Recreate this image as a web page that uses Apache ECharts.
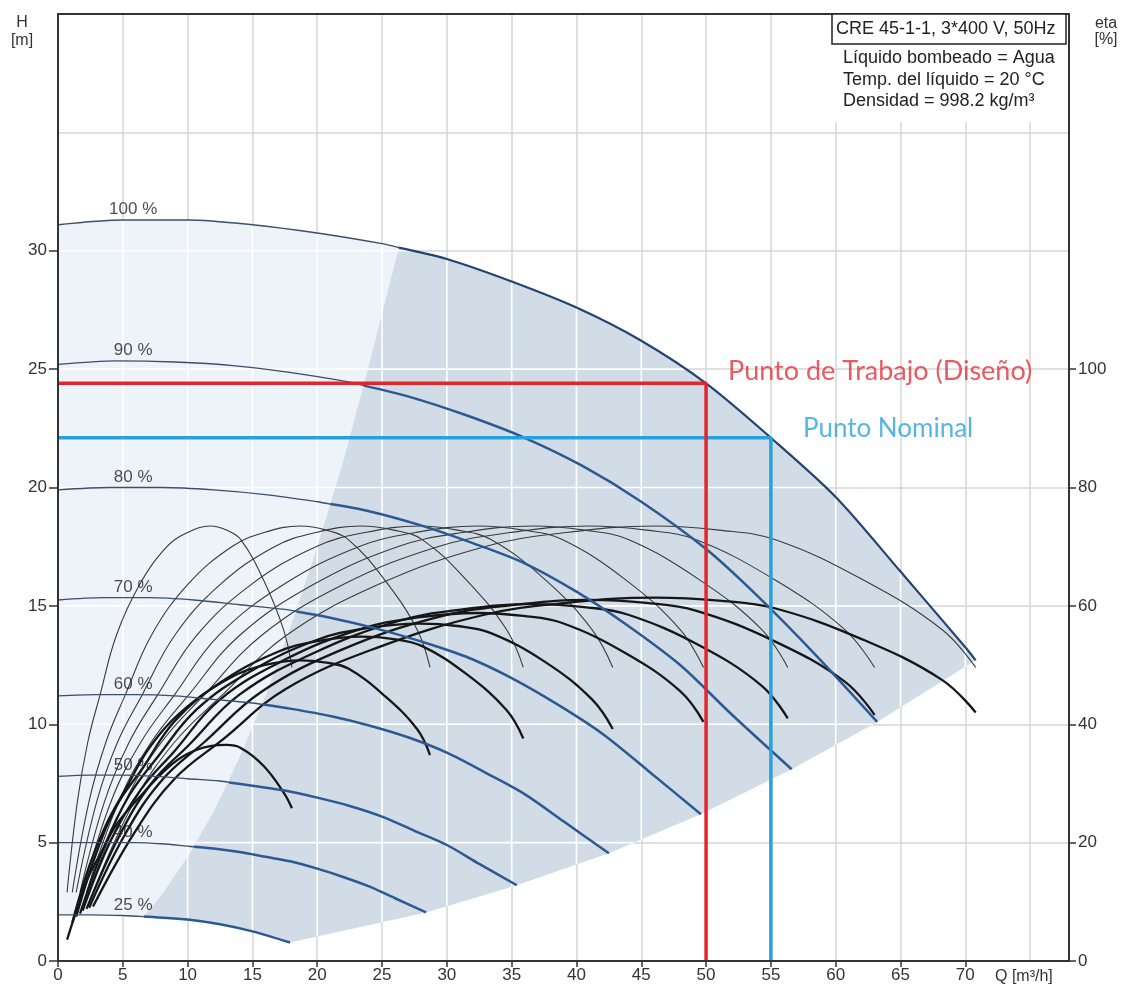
<!DOCTYPE html>
<html>
<head>
<meta charset="utf-8">
<title>CRE 45-1-1</title>
<script src="https://cdn.jsdelivr.net/npm/echarts@6.0.0/dist/echarts.min.js"></script>
<style>
  html, body { margin: 0; padding: 0; background: #fff; }
  #chart { width: 1123px; height: 986px; }
</style>
</head>
<body>
<div id="chart"></div>
<script>
// ---- axis ticks ----
var qTicks = [0, 5, 10, 15, 20, 25, 30, 35, 40, 45, 50, 55, 60, 65, 70];
var hTicks = [0, 5, 10, 15, 20, 25, 30];
var etaTicks = [0, 20, 40, 60, 80, 100];

// ---- Q-H curves for each speed, [Q m3/h, H m] ----
var speedNames = ['100 %', '90 %', '80 %', '70 %', '60 %', '50 %', '40 %', '25 %'];
var qh100 = [[0,31.1],[5,31.3],[10,31.3],[15,31.1],[20,30.75],[25,30.3],[30,29.65],[35,28.7],[40,27.6],[45,26.2],[50,24.4],[55,22.1],[60,19.6],[65,16.45],[70,13.25],[70.8,12.7]];
var qh90 = [[0,25.2],[4.5,25.35],[9,25.3],[13.5,25.15],[18,24.85],[22.5,24.45],[27,23.85],[31.5,23.05],[36,22.1],[40.5,20.9],[45,19.4],[50,17.4],[54,15.4],[58.5,12.9],[63.2,10.1]];
var qh80 = [[0,19.9],[4,20.0],[8,20.0],[12,19.9],[16,19.7],[20,19.4],[24,19.0],[28,18.4],[32,17.65],[36,16.8],[40,15.6],[44,14.15],[48,12.5],[52,10.4],[56.6,8.1]];
var qh70 = [[0,15.25],[3.5,15.35],[7,15.35],[10.5,15.25],[14,15.05],[17.5,14.85],[21,14.5],[24.5,14.05],[28,13.5],[31.5,12.85],[35,11.95],[38.5,10.85],[42,9.6],[45.5,8.05],[49.6,6.2]];
var qh60 = [[0,11.2],[3,11.25],[6,11.25],[9,11.2],[12,11.05],[15,10.9],[18,10.65],[21,10.35],[24,9.95],[27,9.45],[30,8.8],[33,7.95],[36,7.05],[39,5.9],[42.5,4.55]];
var qh50 = [[0,7.8],[2.5,7.85],[5,7.85],[7.5,7.8],[10,7.7],[12.5,7.6],[15,7.4],[17.5,7.2],[20,6.9],[22.5,6.55],[25,6.1],[27.5,5.5],[30,4.9],[32.5,4.1],[35.4,3.2]];
var qh40 = [[0,5.0],[2,5.0],[4,5.0],[6,5.0],[8,4.95],[10,4.85],[12,4.75],[14,4.6],[16,4.4],[18,4.2],[20,3.9],[22,3.55],[24,3.15],[26,2.65],[28.4,2.05]];
var qh25 = [[0,1.95],[2.5,1.95],[5,1.92],[7.5,1.85],[10,1.75],[12.5,1.55],[15,1.25],[17.9,0.78]];
// where each speed curve enters the darker zone
var speedSplitQ = [26.3, 23.6, 21.0, 18.4, 15.8, 13.2, 10.5, 6.6];
// edge between light and dark zone
var areaEdge = [[6.6,1.88],[8,2.8],[10,4.4],[12,6.3],[14,8.6],[16,11.2],[18,14.2],[20,17.5],[22,21.1],[24,25.2],[26.3,30.15]];

// ---- efficiency curves, Q per speed, eta in % ----
var etaQ100 = [2.7,5.9,9.0,12.7,17.6,24.7,32.9,39.2,46.1,51.0,55.3,62.1,68.2,70.8];
var etaQ90  = [2.4,5.2,8.0,11.3,15.7,22.0,29.3,34.9,41.0,45.4,49.2,55.3,60.7,63.0];
var etaQ80  = [2.2,4.7,7.2,10.1,14.0,19.7,26.2,31.2,36.7,40.6,44.0,49.5,54.3,56.3];
var etaQ70  = [1.9,4.1,6.4,9.0,12.4,17.4,23.2,27.6,32.4,35.9,38.9,43.8,48.0,49.8];
var etaQ60  = [1.7,3.6,5.5,7.7,10.7,14.9,19.9,23.7,27.9,30.8,33.4,37.6,41.2,42.8];
var etaQ50  = [1.4,3.0,4.6,6.5,9.0,12.5,16.7,19.9,23.4,25.9,28.1,31.5,34.6,35.9];
var etaQ40  = [1.1,2.4,3.7,5.2,7.2,10.0,13.4,15.9,18.7,20.7,22.4,25.2,27.7,28.7];
var etaQ25  = [0.7,1.5,2.3,3.25,4.5,6.3,8.4,10.0,11.75,13.0,14.1,15.85,17.4,18.05];
var etaPump = [11.6,27,37,45,55,63.6,70,72.4,73.5,72.8,71.2,64.4,56,49.6];
var etaTotal100 = [9.2,21.7,30.8,37.4,46,53,58.5,60.5,61.4,60.9,59.6,54.3,47.5,42];
var etaTotal90  = [9,21.5,30.5,37,45.5,52.7,58.1,60.1,61,60.5,59.2,54,47.2,41.6];
var etaTotal80  = [8.8,21,30,36.5,45,52,57.4,59.4,60.3,59.8,58.5,53.3,46.5,41];
var etaTotal70  = [8.5,20.5,29,35.5,44,50.8,56,58,58.8,58.3,57.1,52,45.6,40.4];
var etaTotal60  = [8,19.5,28,34.5,42.5,49,54.2,56.2,57,56.6,55.4,50.5,44.2,39.2];
var etaTotal50  = [7.5,18.5,26.5,32.5,40.5,47,52,54,54.8,54.4,53.2,48.5,42.4,37.6];
var etaTotal40  = [6.5,16,23,29,36.5,43,48,50,50.8,50.4,49.4,44.8,39.2,34.8];
var etaTotal25  = [3.6,9,14,18,23,27.7,32.5,35,36.3,36.5,36,33,28.5,25.8];

// ---- operating points ----
var workPoint = [50, 24.4];
var nominalPoint = [55, 22.1];

var speedCurves = [qh100, qh90, qh80, qh70, qh60, qh50, qh40, qh25];
var etaQs = [etaQ100, etaQ90, etaQ80, etaQ70, etaQ60, etaQ50, etaQ40, etaQ25];
var etaTotals = [etaTotal100, etaTotal90, etaTotal80, etaTotal70, etaTotal60, etaTotal50, etaTotal40, etaTotal25];
// end points of the speed curves = max flow line
var maxFlow = speedCurves.map(function (c) { return c[c.length - 1]; }).reverse();

function valueAt(curve, q) {
  for (var i = 1; i < curve.length; i++) {
    if (q <= curve[i][0]) {
      var a = curve[i - 1], b = curve[i];
      return a[1] + (b[1] - a[1]) * (q - a[0]) / (b[0] - a[0]);
    }
  }
  return curve[curve.length - 1][1];
}
// search from the right end for the flow where the curve has head h
function flowAt(curve, h) {
  for (var i = curve.length - 1; i > 0; i--) {
    var a = curve[i - 1], b = curve[i];
    if ((a[1] - h) * (b[1] - h) <= 0) {
      return a[0] + (h - a[1]) * (b[0] - a[0]) / (b[1] - a[1]);
    }
  }
  return curve[0][0];
}
function pairs(qs, vals) {
  return qs.map(function (q, i) { return [q, vals[i]]; });
}

function renderArea(params, api) {
  var edgeBot = areaEdge[0], edgeTop = areaEdge[areaEdge.length - 1];
  var qEnd25 = qh25[qh25.length - 1][0];
  var end100 = qh100[qh100.length - 1];
  var light = [].concat(
    qh100.filter(function (p) { return p[0] < edgeTop[0]; }),
    areaEdge.slice().reverse(),
    qh25.filter(function (p) { return p[0] < edgeBot[0]; }).reverse()
  );
  var dark = [].concat(
    areaEdge,
    qh100.filter(function (p) { return p[0] > edgeTop[0]; }),
    maxFlow.slice().reverse(),
    qh25.filter(function (p) { return p[0] > edgeBot[0] && p[0] < qEnd25; }).reverse()
  );
  var children = [
    { type: 'polygon', shape: { points: light.map(api.coord) }, style: { fill: '#edf3f9' } },
    { type: 'polygon', shape: { points: dark.map(api.coord) }, style: { fill: '#d1dce7' } }
  ];
  // white grid lines inside the shaded zone
  qTicks.forEach(function (q) {
    if (q <= 0 || q >= end100[0]) return;
    var lo = q <= qEnd25 ? valueAt(qh25, q) : valueAt(maxFlow, q);
    var hi = valueAt(qh100, q);
    var p1 = api.coord([q, lo]), p2 = api.coord([q, hi]);
    children.push({ type: 'line', shape: { x1: p1[0], y1: p1[1], x2: p2[0], y2: p2[1] },
      style: { stroke: '#ffffff', lineWidth: 1.6 } });
  });
  hTicks.forEach(function (h) {
    if (h <= 0) return;
    var qr = h >= end100[1] ? flowAt(qh100, h) : flowAt(maxFlow, h);
    var p1 = api.coord([0, h]), p2 = api.coord([qr, h]);
    children.push({ type: 'line', shape: { x1: p1[0], y1: p1[1], x2: p2[0], y2: p2[1] },
      style: { stroke: '#ffffff', lineWidth: 1.6 } });
  });
  return { type: 'group', children: children };
}

var series = [];
series.push({
  type: 'custom', name: 'zona', xAxisIndex: 0, yAxisIndex: 0, z: 1,
  data: [[0, 0]], renderItem: renderArea, silent: true
});

// efficiency curves (right axis)
etaQs.forEach(function (qs, i) {
  series.push({
    type: 'line', xAxisIndex: 0, yAxisIndex: 1, z: 3, symbol: 'none', smooth: 0.4,
    data: pairs(qs, etaPump), lineStyle: { color: '#3a3a3a', width: 1.1 }
  });
  series.push({
    type: 'line', xAxisIndex: 0, yAxisIndex: 1, z: 4, symbol: 'none', smooth: 0.4,
    data: pairs(qs, etaTotals[i]), lineStyle: { color: '#161616', width: 2.3 }
  });
});

// speed curves, thin in light zone, thicker blue in dark zone
speedCurves.forEach(function (c, i) {
  var qs = speedSplitQ[i];
  var cut = [qs, valueAt(c, qs)];
  var left = c.filter(function (p) { return p[0] < qs; }).concat([cut]);
  var right = [cut].concat(c.filter(function (p) { return p[0] > qs; }));
  series.push({
    type: 'line', xAxisIndex: 0, yAxisIndex: 0, z: 5, symbol: 'none', smooth: 0.3,
    data: left, lineStyle: { color: '#3b4f6b', width: 1.4 }
  });
  series.push({
    type: 'line', xAxisIndex: 0, yAxisIndex: 0, z: 5, symbol: 'none', smooth: 0.3,
    data: right, lineStyle: { color: i === 0 ? '#244470' : '#2b5a92', width: i === 0 ? 2.2 : 2.5 }
  });
});

// speed labels
series.push({
  type: 'scatter', xAxisIndex: 0, yAxisIndex: 0, z: 8, symbolSize: 0, silent: true,
  data: speedCurves.map(function (c, i) {
    return { value: [5.8, valueAt(c, 5.8)], label: { formatter: speedNames[i] } };
  }),
  label: { show: true, position: 'top', distance: 2, color: '#222', fontSize: 17, fontFamily: 'Liberation Sans' }
});

// operating point lines
series.push({
  type: 'line', xAxisIndex: 0, yAxisIndex: 0, z: 6, symbol: 'none',
  data: [[0, nominalPoint[1]], nominalPoint, [nominalPoint[0], 0]],
  lineStyle: { color: '#27a1db', width: 3.5 }
});
series.push({
  type: 'line', xAxisIndex: 0, yAxisIndex: 0, z: 7, symbol: 'none',
  data: [[0, workPoint[1]], workPoint, [workPoint[0], 0]],
  lineStyle: { color: '#e4252d', width: 3.5 }
});
series.push({
  type: 'scatter', xAxisIndex: 0, yAxisIndex: 0, z: 8, symbolSize: 0, silent: true,
  data: [
    { value: workPoint, label: { formatter: 'Punto de Trabajo (Diseño)', color: '#e5313a', fontSize: 27, distance: 22, offset: [0, -12] } },
    { value: nominalPoint, label: { formatter: 'Punto Nominal', color: '#2ba2dc', fontSize: 26, distance: 32, offset: [0, -9] } }
  ],
  label: { show: true, position: 'right', fontFamily: 'Lato' }
});

var labelFont = { color: '#333', fontSize: 17, fontFamily: 'Liberation Sans' };

var option = {
  animation: false,
  backgroundColor: '#fff',
  grid: { left: 58, right: 54, top: 14, bottom: 25 },
  xAxis: [
    {
      type: 'value', min: 0, max: 78, interval: 5, z: 10,
      axisLine: { show: true, onZero: false, lineStyle: { color: '#333', width: 2 } },
      axisTick: { show: true, length: 6, customValues: qTicks, lineStyle: { color: '#333', width: 1.5 } },
      axisLabel: Object.assign({ margin: 6, customValues: qTicks,
        formatter: function (v) { return v <= 70 ? String(v) : ''; } }, labelFont),
      splitLine: { show: false }
    },
    {
      type: 'value', min: 0, max: 78, interval: 5, position: 'top', z: 0,
      axisLine: { show: true, onZero: false, lineStyle: { color: '#333', width: 2 } },
      axisTick: { show: false }, axisLabel: { show: false },
      splitLine: { show: true, lineStyle: { color: '#d6d6d6', width: 1.5 } }
    }
  ],
  yAxis: [
    {
      type: 'value', min: 0, max: 40, interval: 5, position: 'left', z: 10,
      axisLine: { show: true, onZero: false, lineStyle: { color: '#333', width: 2 } },
      axisTick: { show: true, length: 9, customValues: hTicks, lineStyle: { color: '#333', width: 1.5 } },
      axisLabel: Object.assign({ margin: 11, customValues: hTicks,
        formatter: function (v) { return v <= 30 ? String(v) : ''; } }, labelFont),
      splitLine: { show: false }
    },
    {
      type: 'value', min: 0, max: 160, interval: 20, position: 'right', z: 10,
      axisLine: { show: true, onZero: false, lineStyle: { color: '#333', width: 2 } },
      axisTick: { show: true, length: 7, customValues: etaTicks, lineStyle: { color: '#333', width: 1.5 } },
      axisLabel: Object.assign({ margin: 9, customValues: etaTicks,
        formatter: function (v) { return v <= 100 ? String(v) : ''; } }, labelFont),
      splitLine: { show: false }
    },
    {
      type: 'value', min: 0, max: 40, interval: 5, position: 'left', z: 0,
      axisLine: { show: false }, axisTick: { show: false }, axisLabel: { show: false },
      splitLine: { show: true, lineStyle: { color: '#d6d6d6', width: 1.5 } }
    }
  ],
  graphic: [
    { type: 'rect', z: 50, shape: { x: 834, y: 44, width: 234, height: 78 }, style: { fill: '#fff' } },
    { type: 'rect', z: 51, shape: { x: 832, y: 14, width: 234, height: 30 }, style: { fill: '#fff', stroke: '#222', lineWidth: 1.5 } },
    { type: 'text', z: 52, x: 836, y: 29, style: { text: 'CRE 45-1-1, 3*400 V, 50Hz', fill: '#222', font: '18px "Liberation Sans"', verticalAlign: 'middle' } },
    { type: 'text', z: 52, x: 843, y: 58, style: { text: 'Líquido bombeado = Agua', fill: '#222', font: '18px "Liberation Sans"', verticalAlign: 'middle' } },
    { type: 'text', z: 52, x: 843, y: 80, style: { text: 'Temp. del líquido = 20 °C', fill: '#222', font: '18px "Liberation Sans"', verticalAlign: 'middle' } },
    { type: 'text', z: 52, x: 843, y: 101, style: { text: 'Densidad = 998.2 kg/m³', fill: '#222', font: '18px "Liberation Sans"', verticalAlign: 'middle' } },
    { type: 'text', z: 52, x: 22, y: 23, style: { text: 'H', fill: '#333', font: '16px "Liberation Sans"', align: 'center', verticalAlign: 'middle' } },
    { type: 'text', z: 52, x: 22, y: 41, style: { text: '[m]', fill: '#333', font: '16px "Liberation Sans"', align: 'center', verticalAlign: 'middle' } },
    { type: 'text', z: 52, x: 1106, y: 24, style: { text: 'eta', fill: '#333', font: '16px "Liberation Sans"', align: 'center', verticalAlign: 'middle' } },
    { type: 'text', z: 52, x: 1106, y: 40, style: { text: '[%]', fill: '#333', font: '16px "Liberation Sans"', align: 'center', verticalAlign: 'middle' } },
    { type: 'text', z: 52, x: 995, y: 977, style: { text: 'Q [m³/h]', fill: '#333', font: '16px "Liberation Sans"', verticalAlign: 'middle' } }
  ],
  series: series
};

var chart = echarts.init(document.getElementById('chart'));
chart.setOption(option);
</script>
</body>
</html>
